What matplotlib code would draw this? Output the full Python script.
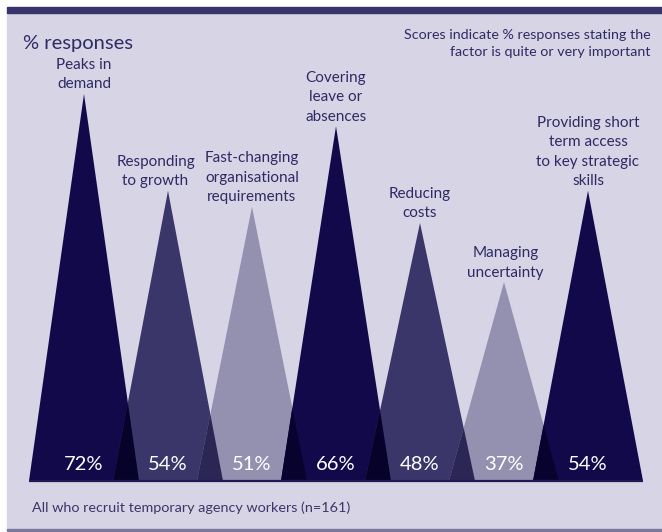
import matplotlib.pyplot as plt
from matplotlib.patches import Rectangle, Polygon

# survey results
factors = [
    'Peaks in\ndemand',
    'Responding\nto growth',
    'Fast-changing\norganisational\nrequirements',
    'Covering\nleave or\nabsences',
    'Reducing\ncosts',
    'Managing\nuncertainty',
    'Providing short\nterm access\nto key strategic\nskills',
]
scores = [72, 54, 51, 66, 48, 37, 54]
label_shift = [0, -9, 0, 0, 0, 1, 0]   # horizontal nudge of labels, points

DARK = '#12094b'
MID = '#3b3669'
LIGHT = '#9390b0'
shades = [DARK, MID, LIGHT, DARK, MID, LIGHT, DARK]
overlap = {(DARK, MID): '#06022a', (MID, LIGHT): '#2b2654',
           (LIGHT, DARK): '#08032e', (MID, DARK): '#06022a'}
BG = '#d7d4e5'
INK = '#2e2a63'
half = 0.655   # half width of each triangle base, in category units

plt.rcParams['font.family'] = ['Lato', 'DejaVu Sans']

W, H = 662, 532
fig = plt.figure(figsize=(W / 100, H / 100), dpi=100)
fig.patch.set_facecolor('white')

# panel background, top rule and bottom rule
fig.patches.append(Rectangle((7 / W, 2 / H), 1 - 7 / W, (H - 15) / H,
                             transform=fig.transFigure, color=BG, zorder=0))
fig.patches.append(Rectangle((7 / W, (H - 13) / H), 1 - 7 / W, 6 / H,
                             transform=fig.transFigure, color='#38336b', zorder=1))
fig.patches.append(Rectangle((7 / W, 1 / H), 1 - 7 / W, 2 / H,
                             transform=fig.transFigure, color='#7c789c', zorder=1))

ax = fig.add_axes([0, 0, 1, 1])
ax.set_zorder(5)
ax.set_facecolor('none')
px = 84.0          # pixels per category
py = 387.0 / 72    # pixels per percentage point
ax.set_xlim(-84 / px, (W - 84) / px)
ax.set_ylim((481 - H) / py, 481 / py)
ax.axis('off')

n = len(scores)
for i, (s, c) in enumerate(zip(scores, shades)):
    ax.add_patch(Polygon([(i - half, 0), (i, s), (i + half, 0)],
                         closed=True, facecolor=c, edgecolor='none', zorder=2))

# darker patch where neighbouring triangles overlap
for i in range(n - 1):
    h1, h2 = scores[i], scores[i + 1]
    a = i + half          # right foot of left triangle
    b = i + 1 - half      # left foot of right triangle
    # right edge: y = h1*(a - x)/half ; left edge: y = h2*(x - b)/half
    xc = (h1 * a + h2 * b) / (h1 + h2)
    yc = h1 * (a - xc) / half
    ax.add_patch(Polygon([(b, 0), (xc, yc), (a, 0)], closed=True,
                         facecolor=overlap[(shades[i], shades[i + 1])],
                         edgecolor='none', zorder=3))

ax.plot([-half, n - 1 + half], [0, 0], color='#1e1855', lw=1.6, zorder=4,
        solid_capstyle='butt')

for i, (s, name) in enumerate(zip(scores, factors)):
    ax.text(i, 17 / py, f'{s}%', ha='center', va='center', color='white',
            fontsize=14.5, zorder=5)
    ax.annotate(name, (i, s), xytext=(label_shift[i], 4),
                textcoords='offset points', ha='center', va='baseline',
                multialignment='center', color=INK, fontsize=11,
                linespacing=1.5, zorder=5)

fig.text(23 / W, 1 - 43 / H, '% responses', ha='left', va='center',
         color=INK, fontsize=14.5)
fig.text(651 / W, 1 - 44 / H,
         'Scores indicate % responses stating the\nfactor is quite or very important',
         ha='right', va='center', multialignment='right', color=INK,
         fontsize=10.3, linespacing=1.5)
fig.text(32 / W, 1 - 508 / H, 'All who recruit temporary agency workers (n=161)',
         ha='left', va='center', color='#3b3669', fontsize=10.4)

fig.savefig('out.png', dpi=100, facecolor=fig.get_facecolor())
